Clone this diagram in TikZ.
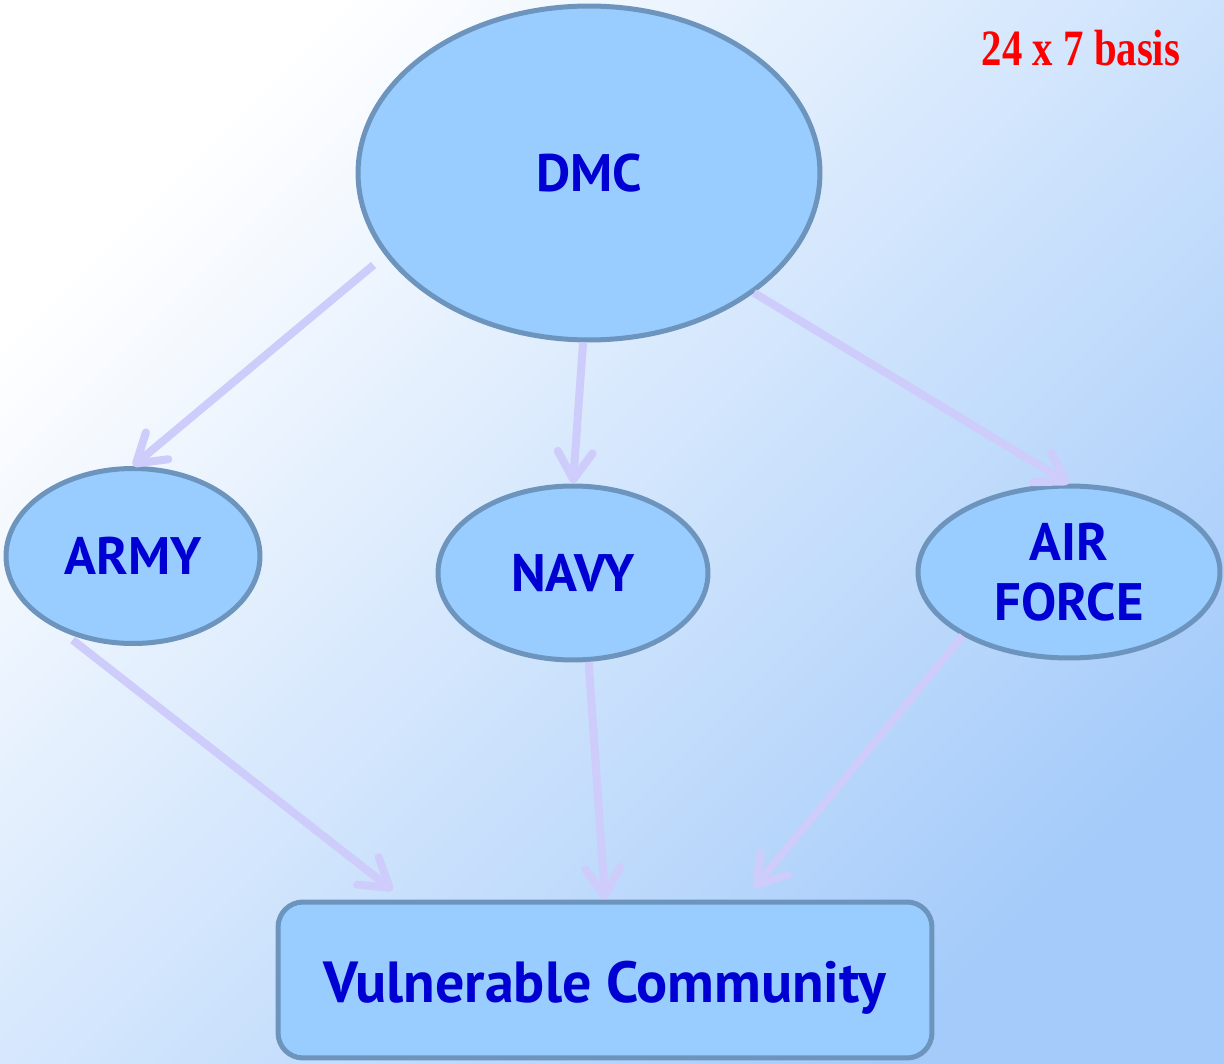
\documentclass[tikz,border=0pt]{standalone}
\usepackage{fontspec}
\setsansfont{PT Sans}
\newfontfamily\basisfont{Liberation Serif}
\usepackage{tikz}
\usetikzlibrary{calc}
\usetikzlibrary{arrows.meta}
\usetikzlibrary{shapes}
\usetikzlibrary{positioning}
\usetikzlibrary{shapes.geometric}

\definecolor{nodefill}{RGB}{153,204,255}
\definecolor{nodeline}{RGB}{108,148,188}
\definecolor{labelblue}{RGB}{0,0,210}
\definecolor{arrowlav}{RGB}{206,204,250}
\definecolor{bgblue}{RGB}{164,203,250}

\begin{document}
\begin{tikzpicture}[x=0.02cm, y=-0.02cm,
  unit/.style={ellipse, draw=nodeline, fill=nodefill, line width=0.1cm, inner sep=0pt, text=labelblue, font=\sffamily\bfseries\fontsize{30}{34}\selectfont},
  flow/.style={draw=arrowlav, line width=0.16cm, -{Straight Barb[length=0.55cm, width=0.7cm, round]}}]
\useasboundingbox (0,0) rectangle (1224,1064);
\shade [top color=white, bottom color=bgblue, shading angle=45] (0,0) rectangle (1224,1064);

\node [unit, minimum width=9.24cm, minimum height=6.68cm] (DMC) at (589,173) {DMC};
\node [unit, minimum width=5.08cm, minimum height=3.5cm] (ARMY) at (133,556) {ARMY};
\node [unit, minimum width=5.4cm, minimum height=3.48cm] (NAVY) at (573,573) {NAVY};
\node [unit, minimum width=6.04cm, minimum height=3.44cm, align=center] (AF) at (1069,572) {AIR\\FORCE};
\node [unit, rectangle, rounded corners=0.5cm, minimum width=13.08cm, minimum height=3.12cm, text height=1.0cm, text depth=0.1cm, font=\sffamily\bfseries\fontsize{33}{38}\selectfont] (VC) at (605,980) {Vulnerable Community};
\node [text=red, font=\basisfont\bfseries\fontsize{29}{34}\selectfont, xscale=0.8] (basis) at (1081,48) {24 x 7 basis};

\draw [flow, shorten <=0.3cm] (DMC.202) to (ARMY.north);
\draw [flow] (DMC.268) to (NAVY.north);
\draw [flow] (DMC.324) to (AF.north);
\draw [flow, shorten <=0.3cm, shorten >=0.3cm] (ARMY.226) to ([xshift=2.58cm]VC.north west);
\draw [flow] (NAVY.280) to (VC.north);
\draw [flow, shorten >=0.3cm] (AF.211) to ([xshift=9.38cm]VC.north west);
\end{tikzpicture}
\end{document}
